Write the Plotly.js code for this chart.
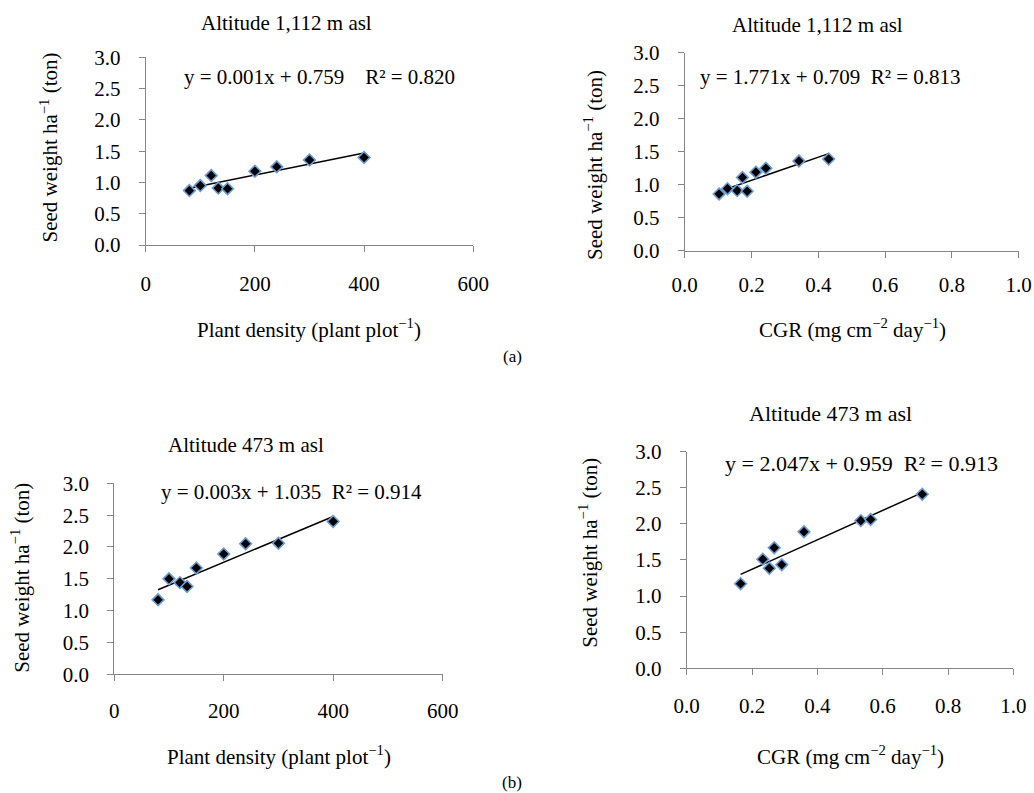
<!DOCTYPE html>
<html>
<head>
<meta charset="utf-8">
<script src="https://cdn.plot.ly/plotly-3.0.1.min.js"></script>
<style>
html,body{margin:0;padding:0;background:#fff;}
#chart{width:1034px;height:793px;}
</style>
</head>
<body>
<div id="chart"></div>
<script>
// ---- Data ----
var densityLabel = "Plant density (plant plot<sup>−1</sup>)";
var cgrLabel = "CGR (mg cm<sup>−2</sup> day<sup>−1</sup>)";
var yLabel = "Seed weight ha<sup>−1</sup> (ton)";

var titleHigh = "Altitude 1,112 m asl";
var titleLow = "Altitude 473 m asl";

// (a) Altitude 1,112 m asl
var densityHigh = [80, 100, 120, 133, 150, 200, 240, 300, 400];
var seedHighDensity = [0.87, 0.95, 1.11, 0.91, 0.90, 1.18, 1.25, 1.36, 1.40];
var cgrHigh = [0.103, 0.128, 0.157, 0.173, 0.187, 0.213, 0.243, 0.342, 0.431];
var seedHighCgr = [0.86, 0.94, 0.91, 1.11, 0.90, 1.19, 1.25, 1.36, 1.39];

// (b) Altitude 473 m asl
var densityLow = [80, 100, 120, 133, 150, 200, 240, 300, 400];
var seedLowDensity = [1.17, 1.50, 1.44, 1.38, 1.67, 1.89, 2.05, 2.06, 2.40];
var cgrLow = [0.165, 0.233, 0.253, 0.268, 0.291, 0.359, 0.533, 0.563, 0.721];
var seedLowCgr = [1.17, 1.51, 1.385, 1.67, 1.435, 1.89, 2.045, 2.06, 2.41];

var eqA = "y = 0.001x + 0.759    R² = 0.820";
var eqB = "y = 1.771x + 0.709  R² = 0.813";
var eqC = "y = 0.003x + 1.035  R² = 0.914";
var eqD = "y = 2.047x + 0.959  R² = 0.913";

// ---- helpers ----
function fitLine(xs, ys){
  var n = xs.length, mx = 0, my = 0;
  for (var i=0;i<n;i++){ mx += xs[i]; my += ys[i]; }
  mx/=n; my/=n;
  var sxy=0, sxx=0;
  for (var j=0;j<n;j++){ sxy += (xs[j]-mx)*(ys[j]-my); sxx += (xs[j]-mx)*(xs[j]-mx); }
  var b = sxy/sxx, a = my - b*mx;
  var x0 = Math.min.apply(null, xs), x1 = Math.max.apply(null, xs);
  return {x:[x0,x1], y:[a+b*x0, a+b*x1]};
}

var FONT = '"Liberation Serif", "Times New Roman", serif';
var W = 1034, H = 793;
function px(x){ return x/W; }
function py(y){ return 1 - y/H; }

var traces = [];
function addPanel(xs, ys, xa, ya){
  var f = fitLine(xs, ys);
  traces.push({x:f.x, y:f.y, mode:'lines', type:'scatter', xaxis:xa, yaxis:ya,
    line:{color:'#000', width:1.5}, hoverinfo:'skip', showlegend:false});
  traces.push({x:xs, y:ys, mode:'markers', type:'scatter', xaxis:xa, yaxis:ya,
    marker:{symbol:'diamond', size:9, color:'#000', line:{color:'#6b9bd2', width:1.6}},
    showlegend:false});
}
addPanel(densityHigh, seedHighDensity, 'x', 'y');
addPanel(cgrHigh, seedHighCgr, 'x2', 'y2');
addPanel(densityLow, seedLowDensity, 'x3', 'y3');
addPanel(cgrLow, seedLowCgr, 'x4', 'y4');

function xAxis(domain, range, dtick, fmt, anchor, standoff){
  return {domain:domain, range:range, dtick:dtick, tick0:0, tickformat:fmt, anchor:anchor,
    showline:true, linecolor:'#868686', linewidth:1, ticks:'outside', ticklen:6, tickcolor:'#868686',
    showgrid:false, zeroline:false, ticklabelstandoff:standoff,
    tickfont:{family:FONT, size:21, color:'#000'}, fixedrange:true};
}
function yAxis(domain, anchor){
  return {domain:domain, range:[0,3], dtick:0.5, tick0:0, tickformat:'.1f', anchor:anchor,
    showline:true, linecolor:'#868686', linewidth:1, ticks:'outside', ticklen:6, tickcolor:'#868686',
    showgrid:false, zeroline:false, ticklabelstandoff:14,
    tickfont:{family:FONT, size:21, color:'#000'}, fixedrange:true};
}

function ann(text, x, y, size, angle){
  return {text:text, x:px(x), y:py(y), xref:'paper', yref:'paper', showarrow:false,
    xanchor:'center', yanchor:'middle', textangle:angle||0,
    font:{family:FONT, size:size||21, color:'#000'}};
}

var layout = {
  width:W, height:H, autosize:false,
  margin:{l:0, r:0, t:0, b:0},
  paper_bgcolor:'#fff', plot_bgcolor:'rgba(0,0,0,0)',
  showlegend:false,
  xaxis:  xAxis([0.1409, 0.4577], [0,600], 200, 'd', 'y', 14),
  yaxis:  yAxis([0.6910, 0.9277], 'x'),
  xaxis2: xAxis([0.6622, 0.9852], [0,1], 0.2, '.1f', 'y2', 9),
  yaxis2: yAxis([0.6839, 0.9335], 'x2'),
  xaxis3: xAxis([0.1105, 0.4281], [0,600], 200, 'd', 'y3', 12),
  yaxis3: yAxis([0.1497, 0.3905], 'x3'),
  xaxis4: xAxis([0.6641, 0.9801], [0,1], 0.2, '.1f', 'y4', 13),
  yaxis4: yAxis([0.1573, 0.4304], 'x4'),
  annotations:[
    ann(titleHigh, 286, 23, 21),
    ann(eqA, 319, 77, 21),
    ann(densityLabel, 309, 328, 21),
    ann(yLabel, 49, 147.5, 21, -90),

    ann(titleHigh, 817.5, 25, 21),
    ann(eqB, 830.5, 77, 21),
    ann(cgrLabel, 852, 328, 21),
    ann(yLabel, 593, 165, 21, -90),

    ann(titleLow, 246, 445, 21),
    ann(eqC, 291, 492, 21),
    ann(densityLabel, 279, 755, 21),
    ann(yLabel, 19.7, 578, 21, -90),

    ann(titleLow, 830.5, 413, 22),
    ann(eqD, 861.7, 463, 22),
    ann(cgrLabel, 850, 755, 21),
    ann(yLabel, 587.7, 553, 21, -90),

    ann("(a)", 512, 356.7, 17),
    ann("(b)", 512, 782, 17)
  ]
};

Plotly.newPlot('chart', traces, layout, {displayModeBar:false, staticPlot:true});
</script>
</body>
</html>
